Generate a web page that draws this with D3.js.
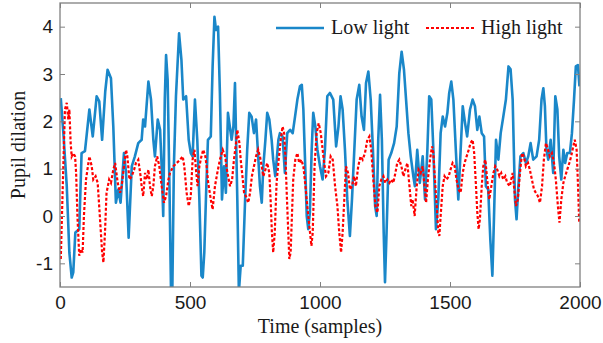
<!DOCTYPE html>
<html>
<head>
<meta charset="utf-8">
<script src="https://cdn.jsdelivr.net/npm/d3@7"></script>
<style>
  body { margin: 0; background: #fff; }
</style>
</head>
<body>
<div id="chart"></div>
<script>
// samples
const lowLightTime = [3,13,26,36,45,51,59,74,83,96,113,126,141,151,162,174,183,196,205,215,224,233,246,254,264,276,288,301,314,320,327,340,350,359,365,376,385,392,397,403,408,414,421,427,432,438,446,458,467,474,485,495,503,510,519,528,536,544,549,555,562,569,580,587,594,600,608,615,623,631,638,646,660,667,673,682,688,695,703,712,720,728,737,746,754,763,769,776,782,790,797,805,814,820,828,840,846,856,865,874,885,895,904,913,923,930,936,942,949,955,961,968,974,982,990,1000,1010,1019,1028,1038,1051,1062,1071,1079,1087,1096,1105,1115,1123,1132,1141,1151,1160,1169,1177,1186,1195,1203,1212,1218,1224,1231,1238,1245,1250,1256,1264,1274,1285,1295,1305,1314,1323,1331,1340,1349,1359,1365,1374,1384,1395,1404,1413,1420,1428,1436,1446,1455,1464,1472,1481,1490,1497,1505,1513,1523,1532,1541,1549,1558,1566,1577,1587,1596,1605,1613,1622,1631,1638,1647,1655,1663,1669,1677,1686,1695,1705,1715,1725,1733,1741,1750,1756,1763,1771,1782,1792,1801,1810,1820,1833,1843,1852,1859,1865,1871,1878,1887,1897,1905,1913,1920,1928,1936,1943,1951,1961,1969,1977,1984,1992,1998];
const lowLightPupil = [2.49,1.75,0.63,-0.77,-1.3,-1.19,-0.35,-0.28,1.33,1.37,2.25,1.68,2.53,2.42,1.61,2.63,3.09,2.91,1.89,0.28,0.56,0.28,1.33,0.91,-0.46,1.05,1.26,1.54,1.61,2.04,1.89,2.84,2.46,1.61,1.26,2.04,1.82,0.91,0,2.46,3.4,2.88,0.63,-1.6,-1.6,1.05,2.53,3.86,3.3,2.46,2.53,1.61,1.33,1.26,2.46,1.61,0.35,-1.26,-1.3,-0.77,0.49,1.61,1.68,3.16,4.21,3.93,4.0,2.6,0.35,1.05,0.49,2.18,1.61,1.9,2.81,0.35,-1.6,-1.05,-1.05,0.35,1.4,2.18,2.1,1.75,2.04,1.19,0.63,0.28,1.05,1.61,2.18,2.04,1.61,1.19,0.84,1.61,1.75,1.68,0.91,1.75,1.82,1.75,2.1,2.46,2.74,2.77,2.25,1.26,0,-0.28,0.07,1.4,2.18,1.89,1.4,1.05,0.77,1.4,2.53,2.6,2.46,1.47,1.89,2.53,2.25,1.4,0.35,-0.42,0.35,1.4,2.46,2.77,2.1,1.82,2.81,3.05,2.46,1.47,0.21,0,1.61,2.56,1.61,-0.35,-1.4,-0.35,1.19,1.33,1.54,1.89,3.02,3.47,3.09,2.46,1.75,1.26,0.84,0.63,1.4,0.7,1.26,0.35,1.4,2.53,2.46,1.4,-0.28,0.35,1.75,2.1,1.89,2.18,2.6,2.84,2.46,1.33,0.35,1.4,2.32,1.96,1.68,2.25,2.46,2.32,1.82,2.1,1.75,1.68,0.63,0.56,-0.49,-1.26,-0.07,1.61,1.19,1.75,2.1,2.46,3.16,3.1,2.46,0.35,-0.07,0.63,1.26,1.33,1.12,1.26,1.54,1.19,1.26,1.61,2.46,2.7,2.32,1.4,1.19,1.61,0.91,2.53,2.25,1.26,0.77,1.4,1.12,1.33,1.33,1.75,2.46,3.16,3.19,2.74];

const highLightTime = [3,12,19,26,32,36,41,45,51,58,62,67,74,81,87,92,100,113,122,128,137,145,154,162,167,173,179,189,196,205,212,222,231,237,246,254,259,267,276,285,292,301,310,314,320,327,333,340,346,353,359,365,374,382,391,400,408,417,423,436,449,462,472,478,487,495,503,510,517,523,529,536,544,551,559,564,570,580,587,596,605,615,626,635,644,654,662,669,677,682,690,695,703,708,715,724,731,738,746,754,762,769,776,782,790,797,805,810,815,820,826,833,841,849,856,862,867,872,877,882,887,892,897,905,913,920,928,936,944,951,959,967,972,979,987,995,1003,1013,1023,1032,1041,1049,1058,1067,1074,1081,1087,1094,1100,1108,1115,1123,1131,1138,1147,1156,1164,1173,1182,1190,1197,1205,1213,1221,1228,1236,1244,1251,1259,1267,1274,1282,1290,1297,1305,1313,1321,1328,1336,1344,1351,1356,1364,1372,1379,1387,1395,1402,1408,1415,1423,1431,1436,1442,1449,1455,1459,1464,1472,1479,1487,1495,1502,1510,1518,1525,1533,1541,1549,1556,1564,1572,1579,1587,1593,1600,1605,1610,1615,1622,1628,1636,1643,1651,1659,1667,1674,1682,1690,1697,1705,1713,1720,1730,1741,1746,1754,1761,1769,1777,1784,1792,1800,1807,1815,1823,1830,1838,1846,1854,1861,1869,1877,1884,1892,1900,1907,1915,1921,1928,1936,1943,1951,1959,1966,1974,1980,1987,1992,1997];
const highLightPupil = [-0.91,0.9,2.25,2.39,2.04,2.25,1.54,1.26,1.33,1.26,0.91,0,-0.84,-0.7,-0.77,0,0.77,1.26,1.05,0.77,0.84,0.7,-0.07,-0.77,-0.98,-0.35,0.49,0.77,0.7,0.98,1.12,0.7,0.49,0.63,1.05,1.4,1.26,0.77,0.84,0.98,1.12,1.19,0.84,0.63,0.42,0.91,0.77,0.98,0.63,0.42,0.63,1.05,1.26,1.05,0.63,0.28,0.42,0.77,0.91,1.05,1.12,1.19,1.26,1.05,0.49,0.21,0.42,1.19,1.4,0.98,0.63,1.05,1.26,1.4,1.26,1.05,0.7,0.35,0.14,0.63,0.91,1.19,1.4,1.26,0.91,0.63,0.77,1.19,1.54,1.82,1.54,1.19,0.77,0.49,0.42,0.28,0.49,0.84,1.05,1.26,1.4,1.26,1.05,0.84,0.98,1.12,0.91,0.35,-0.35,-0.77,-0.35,0.7,1.19,1.61,1.89,1.75,1.26,0.49,-0.21,-0.91,-0.77,0,0.77,1.19,1.33,1.12,1.19,1.05,0.63,0.21,-0.21,-0.63,-0.35,1.05,1.75,1.96,1.75,1.26,0.84,0.91,1.26,1.19,0.63,0.21,-0.35,-0.77,-0.35,0.42,1.05,0.91,0.56,0.63,0.84,0.63,1.05,1.26,1.19,1.33,1.61,1.68,1.4,0.77,0.21,0.07,0.63,0.77,0.84,0.7,0.77,0.7,0.77,0.7,0.91,1.12,1.19,1.05,0.84,0.98,1.12,0.63,0.21,0.35,0,0.63,0.98,0.91,1.05,0.63,0.28,0.77,1.19,1.47,1.33,0.77,0.21,-0.35,-0.42,0,0.63,0.84,0.77,0.84,0.98,1.12,1.05,0.77,0.56,0.49,0.91,1.12,1.26,1.4,1.54,1.61,1.33,0.63,0.07,-0.28,-0.07,0.63,1.05,1.19,0.77,0.35,0.63,0.91,1.05,0.98,0.84,0.91,0.77,0.84,0.7,0.63,0.91,0.63,0.21,0.35,0.91,1.33,1.26,1.05,1.12,0.98,0.77,0.56,0.49,0.42,0.28,0.63,1.19,1.54,1.4,1.26,1.33,1.12,0.77,0.21,-0.14,0.35,0.7,0.84,0.98,1.12,1.26,1.47,1.61,1.4,0.7,-0.14];

const xTicks = [0, 500, 1000, 1500, 2000];
const yTicks = [-1, 0, 1, 2, 3, 4];
const seriesNames = ['Low light', 'High light'];
const seriesColors = ['#1a87c9', '#ff0000'];

const width = 603, height = 343;
const margin = { top: 3, right: 23, bottom: 56, left: 60 };
const plotW = width - margin.left - margin.right;
const plotH = height - margin.top - margin.bottom;

const svg = d3.select('#chart').append('svg')
  .attr('width', width)
  .attr('height', height);

const g = svg.append('g')
  .attr('transform', `translate(${margin.left}, ${margin.top})`);

const x = d3.scaleLinear().domain([0, 2000]).range([0, plotW]);
const y = d3.scaleLinear().domain([-1.5, 4.5]).range([plotH, 0]);

g.append('clipPath').attr('id', 'plot-clip')
  .append('rect').attr('width', plotW).attr('height', plotH);

const line = d3.line()
  .x(d => x(d[0]))
  .y(d => y(d[1]));

const lowData = lowLightTime.map((t, i) => [t, lowLightPupil[i]]);
const highData = highLightTime.map((t, i) => [t, highLightPupil[i]]);

const lines = g.append('g').attr('clip-path', 'url(#plot-clip)');
lines.append('path')
  .datum(lowData)
  .attr('d', line)
  .attr('fill', 'none')
  .attr('stroke', seriesColors[0])
  .attr('stroke-width', 2.6)
  .attr('stroke-linejoin', 'round');

lines.append('path')
  .datum(highData)
  .attr('d', line)
  .attr('fill', 'none')
  .attr('stroke', seriesColors[1])
  .attr('stroke-width', 2.2)
  .attr('stroke-dasharray', '3,2');

// axes with inward ticks on all four sides
const tickLen = 5;
const axisColor = '#808080';
const font = 'Liberation Sans, Arial, sans-serif';
const plainNum = d => String(d);

const xAxis = g.append('g')
  .attr('transform', `translate(0, ${plotH})`)
  .call(d3.axisBottom(x).tickValues(xTicks).tickFormat(plainNum)
    .tickSizeInner(-tickLen).tickSizeOuter(0).tickPadding(9));
const yAxis = g.append('g')
  .call(d3.axisLeft(y).tickValues(yTicks).tickFormat(plainNum)
    .tickSizeInner(-tickLen).tickSizeOuter(0).tickPadding(7));
const xTop = g.append('g')
  .call(d3.axisTop(x).tickValues(xTicks).tickSizeInner(-tickLen).tickSizeOuter(0).tickFormat(''));
const yRight = g.append('g')
  .attr('transform', `translate(${plotW}, 0)`)
  .call(d3.axisRight(y).tickValues(yTicks).tickSizeInner(-tickLen).tickSizeOuter(0).tickFormat(''));

[xAxis, yAxis, xTop, yRight].forEach(a => {
  a.select('.domain').remove();
  a.selectAll('line').attr('stroke', axisColor);
  a.selectAll('text')
    .attr('fill', '#1a1a1a')
    .attr('font-size', '19px')
    .attr('font-family', font);
});

g.append('rect')
  .attr('width', plotW)
  .attr('height', plotH)
  .attr('fill', 'none')
  .attr('stroke', axisColor)
  .attr('stroke-width', 1.3);

// axis titles
svg.append('text')
  .attr('x', margin.left + plotW / 2)
  .attr('y', 333)
  .attr('text-anchor', 'middle')
  .attr('font-family', 'Liberation Serif, Times New Roman, serif')
  .attr('font-size', '20px')
  .attr('fill', '#1a1a1a')
  .text('Time (samples)');

svg.append('text')
  .attr('transform', `translate(25, ${margin.top + plotH / 2}) rotate(-90)`)
  .attr('text-anchor', 'middle')
  .attr('font-family', 'Liberation Serif, Times New Roman, serif')
  .attr('font-size', '20px')
  .attr('fill', '#1a1a1a')
  .text('Pupil dilation');

// legend
const legendX = [276, 426];
const legendY = 28;
seriesNames.forEach((name, i) => {
  svg.append('line')
    .attr('x1', legendX[i]).attr('x2', legendX[i] + 48)
    .attr('y1', legendY).attr('y2', legendY)
    .attr('stroke', seriesColors[i])
    .attr('stroke-width', i === 0 ? 2.6 : 2.2)
    .attr('stroke-dasharray', i === 0 ? null : '3,2');
  svg.append('text')
    .attr('x', legendX[i] + 55)
    .attr('y', legendY + 6)
    .attr('font-family', 'Liberation Serif, Times New Roman, serif')
    .attr('font-size', '20px')
    .attr('fill', '#1a1a1a')
    .text(name);
});
</script>
</body>
</html>
